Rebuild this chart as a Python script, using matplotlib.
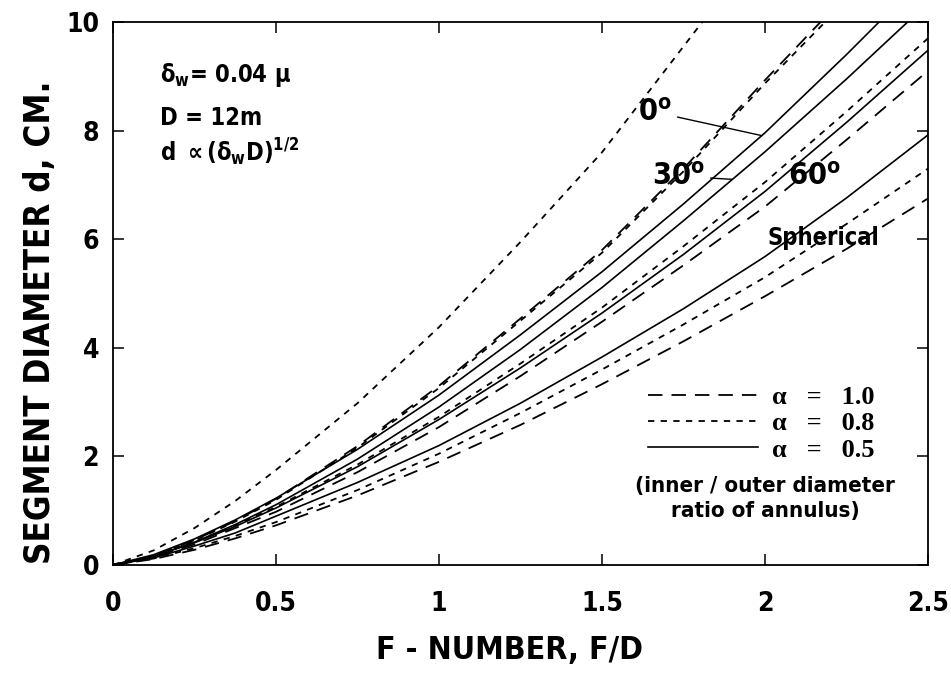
import numpy as np
import matplotlib
matplotlib.use('Agg')
import matplotlib.pyplot as plt
from matplotlib.lines import Line2D

SANS = ['DejaVu Sans', 'Liberation Sans']
SERIF = ['Liberation Serif', 'DejaVu Serif']

plt.rcParams['font.family'] = SANS
plt.rcParams['font.weight'] = 'bold'
plt.rcParams['font.stretch'] = 'condensed'
plt.rcParams['mathtext.fontset'] = 'custom'
plt.rcParams['mathtext.rm'] = 'DejaVu Sans:weight=bold:stretch=condensed'
plt.rcParams['mathtext.it'] = 'DejaVu Sans:weight=bold:stretch=condensed'
plt.rcParams['mathtext.bf'] = 'DejaVu Sans:weight=bold:stretch=condensed'

# F-number grid and segment diameter (cm) for each mirror shape / annulus ratio
f_number = [0, 0.125, 0.25, 0.375, 0.5, 0.75, 1.0, 1.25, 1.5, 1.75, 2.0, 2.25, 2.5]

d_0_a08 = [0, 0.27, 0.68, 1.18, 1.75, 2.98, 4.38, 5.95, 7.60, 9.55, 11.5, 13.5, 15.6]
d_0_a10 = [0, 0.17, 0.46, 0.81, 1.22, 2.19, 3.30, 4.54, 5.80, 7.30, 8.93, 10.5, 12.2]
d_0_a05 = [0, 0.19, 0.48, 0.83, 1.23, 2.13, 3.13, 4.24, 5.40, 6.65, 7.96, 9.40, 10.9]
d_30_a08 = [0, 0.17, 0.45, 0.80, 1.20, 2.16, 3.26, 4.50, 5.75, 7.25, 8.87, 10.4, 12.1]
d_30_a05 = [0, 0.16, 0.42, 0.745, 1.11, 1.95, 2.91, 3.97, 5.11, 6.34, 7.61, 8.95, 10.35]
d_60_a08 = [0, 0.165, 0.42, 0.73, 1.07, 1.85, 2.73, 3.71, 4.74, 5.87, 7.05, 8.35, 9.70]
d_60_a05 = [0, 0.16, 0.41, 0.71, 1.05, 1.81, 2.68, 3.63, 4.64, 5.72, 6.88, 8.15, 9.48]
d_60_a10 = [0, 0.15, 0.38, 0.68, 0.98, 1.71, 2.54, 3.48, 4.48, 5.52, 6.60, 7.83, 9.10]
d_sph_a05 = [0, 0.13, 0.35, 0.59, 0.90, 1.52, 2.20, 2.98, 3.83, 4.72, 5.68, 6.76, 7.92]
d_sph_a08 = [0, 0.12, 0.31, 0.535, 0.79, 1.38, 2.05, 2.80, 3.60, 4.43, 5.30, 6.28, 7.30]
d_sph_a10 = [0, 0.11, 0.28, 0.49, 0.73, 1.28, 1.90, 2.58, 3.33, 4.12, 4.95, 5.82, 6.75]

# line style per annulus ratio alpha
styles = {
    1.0: dict(linestyle=(0, (8, 5)), linewidth=1.3),
    0.8: dict(linestyle=(0, (3.5, 3.5)), linewidth=1.3),
    0.5: dict(linestyle='-', linewidth=1.2),
}

curves = [
    (d_0_a08, 0.8), (d_0_a10, 1.0), (d_0_a05, 0.5),
    (d_30_a08, 0.8), (d_30_a05, 0.5),
    (d_60_a08, 0.8), (d_60_a05, 0.5), (d_60_a10, 1.0),
    (d_sph_a05, 0.5), (d_sph_a08, 0.8), (d_sph_a10, 1.0),
]

fig = plt.figure(figsize=(9.51, 6.83), dpi=100)
ax = fig.add_axes([113 / 951, 1 - 565 / 683, 815 / 951, 543 / 683])

for vals, a in curves:
    ax.plot(f_number, vals, color='black', **styles[a])

ax.set_xlim(0, 2.5)
ax.set_ylim(0, 10)
ax.set_xticks([0, 0.5, 1, 1.5, 2, 2.5])
ax.set_xticklabels(['0', '0.5', '1', '1.5', '2', '2.5'])
ax.set_yticks([0, 2, 4, 6, 8, 10])
ax.tick_params(direction='in', length=8, width=1.1, top=True, right=True,
               labelsize=19)
ax.tick_params(axis='x', pad=19)
ax.tick_params(axis='y', pad=10)
for s in ax.spines.values():
    s.set_linewidth(1.3)

ax.set_xlabel('F - NUMBER, F/D', fontsize=23, fontweight='bold')
ax.set_ylabel('SEGMENT DIAMETER d, CM.', fontsize=25, fontweight='bold')
ax.xaxis.set_label_coords(0.487, -0.157)
ax.yaxis.set_label_coords(-0.09, 0.447)
ax.xaxis.label.set_va('center')
ax.yaxis.label.set_va('center')

# parameters block, upper left
ax.text(0.145, 9.02, r'$\delta_w$= 0.04 $\mu$', fontsize=17, va='center')
ax.text(0.145, 8.23, 'D = 12m', fontsize=17, va='center')
ax.text(0.145, 7.60, r'd $\propto$($\delta_w$D)$^{1/2}$', fontsize=17, va='center')

# curve family labels
ax.annotate(r'0$^o$', xy=(1.99, np.interp(1.99, f_number, d_0_a05)),
            xytext=(1.663, 8.34), fontsize=22, ha='center', va='center',
            arrowprops=dict(arrowstyle='-', lw=1.0, color='black', shrinkA=2, shrinkB=0))
ax.annotate(r'30$^o$', xy=(1.90, np.interp(1.90, f_number, d_30_a05)),
            xytext=(1.735, 7.16), fontsize=22, ha='center', va='center',
            arrowprops=dict(arrowstyle='-', lw=1.0, color='black', shrinkA=2, shrinkB=0))
ax.text(2.153, 7.16, r'60$^o$', fontsize=22, ha='center', va='center')
ax.text(2.178, 6.02, 'Spherical', fontsize=17, ha='center', va='center')

# legend for annulus ratio
handles = [Line2D([], [], color='black', **styles[a]) for a in (1.0, 0.8, 0.5)]
labels = ['α   =   1.0', 'α   =   0.8', 'α   =   0.5']
leg = ax.legend(handles, labels, loc='upper left', bbox_to_anchor=(0.656, 0.33),
                frameon=False, handlelength=4.2, handletextpad=0.5,
                labelspacing=0.1, borderpad=0, borderaxespad=0,
                prop=dict(family=SERIF, size=19))
ax.text(2.0, 1.22, '(inner / outer diameter\nratio of annulus)', fontsize=16,
        ha='center', va='center', linespacing=1.3)

fig.savefig('out.png', dpi=100)
